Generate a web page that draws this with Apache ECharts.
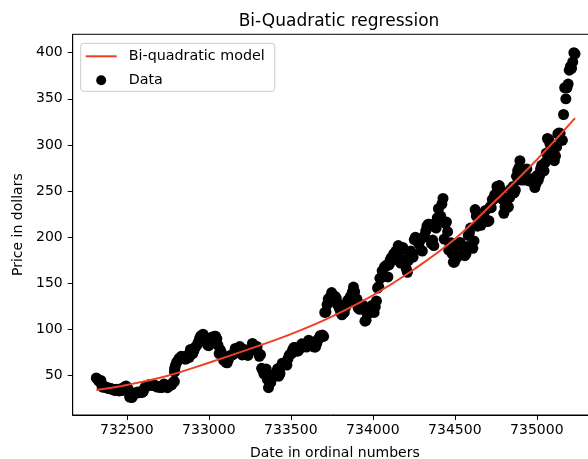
<!DOCTYPE html>
<html><head><meta charset="utf-8">
<script src="https://cdn.jsdelivr.net/npm/echarts@6/dist/echarts.min.js"></script>
<style>html,body{margin:0;padding:0;background:#fff}#c{width:588px;height:459px}</style>
</head><body><div id="c"></div>
<script>
// ---- observed prices (dollars), one reading per week starting on firstWeek ----
const firstWeek='2006-01-03';
const w2006=[47.6,46.2,44.4,43.9,44.8, 38.3,37.4,38.5,37.6, 37.5,36.4,35.9,36.5, 35.8,35.3,35.0,34.0, 34.8,35.3,34.3,33.5,35.0, 36.2,34.0,35.8,38.2, 38.7,36.8,35.0,26.9, 27.7,26.3,28.5,30.8,31.0, 31.6,32.4,31.5,32.1, 32.5,31.9,33.0,36.5,38.1, 38.3,39.6,40.2,40.3, 40.0,39.4,39.8,39.5];
const w2007=[38.7,37.7,38.0,37.5,37.7, 37.2,39.2,41.0,39.1, 38.5,37.0,38.8,39.8, 39.9,40.6,43.0,43.7, 61.3,64.5,66.0,68.5,69.1, 71.0,70.5,70.2,68.2, 68.0,71.5,72.5,69.9,78.5, 74.5,74.0,77.0,80.5, 82.0,84.0,87.0,90.5, 93.2,89.0,95.0,87.5,90.0, 88.0,83.0,82.5,90.6, 91.0,92.0,91.5,92.6];
const w2008=[92.6,90.0,83.0,74.0,78.0, 75.0,72.0,66.5,68.0, 64.5,64.0,67.5,71.0, 72.0,72.5,72.8,74.5,79.5, 79.0,78.0,80.5,81.6, 77.0,72.5,74.5,78.5, 73.3,73.0,72.0,75.5,77.5, 79.0,85.0,80.5,81.0, 80.8,81.5,75.0,71.0,72.8, 58.0,55.8,52.0,52.5, 57.2,46.0,37.0,42.0, 42.7,50.0,48.5,51.0,51.3];
const w2009=[54.5,57.5,49.5,52.5, 60.0,63.5,63.5,62.0, 63.5,61.5,68.5,72.0,73.4, 74.0,78.0,80.5,80.5, 80.0,76.5,77.0,79.0, 81.0,84.5,83.5,83.0,83.7, 81.0,84.5,88.5,85.5, 85.5,84.0,81.5,81.0, 81.2,85.0,89.0,90.5,93.4, 93.5,94.0,92.5,118.5, 119.0,127.0,133.0,134.0, 135.9,140.0,133.0,132.0,136.0];
const w2010=[134.0,127.0,127.5,122.0, 118.0,116.0,118.0,118.5, 124.0,128.5,131.5,131.0,135.0, 137.0,140.5,146.0,141.0, 130.0,133.0,123.5,122.0, 126.0,122.0,126.5,122.0,109.0, 110.0,117.0,119.0,118.0, 122.0,126.0,123.0,118.5,124.8, 131.0,145.0,146.5,155.5, 156.0,163.5,158.0,168.0, 168.5,170.0,157.0,170.0,175.4, 178.0,175.0,182.0,180.0];
const w2011=[185.0,184.5,191.0,176.0, 172.0,187.0,189.0,176.0, 173.5,166.0,162.0,175.0,180.0, 185.0,181.5,178.5,197.5, 200.0,198.0,195.0,193.0,196.7, 186.0,185.0,200.0,202.0, 207.0,212.0,214.0,214.0, 212.0,193.0,197.0,191.0,215.0, 210.0,221.0,231.0,222.0, 223.0,236.0,242.0,198.0, 215.0,216.5,206.0,186.0,192.0, 194.0,182.0,173.0,173.0];
const w2012=[179.0,178.0,181.0,189.0,194.4, 185.0,184.0,182.0,180.0, 182.0,190.0,202.0,205.0, 210.0,190.0,188.0,196.0, 230.0,223.0,212.0,215.0,214.0, 213.0,217.0,221.0,221.0, 229.0,218.0,217.0,218.0,233.0, 232.0,241.0,241.0,246.0, 247.0,255.0,254.0,256.0, 252.0,245.0,241.0,226.0,233.0, 238.0,232.0,233.0,243.0, 252.0,251.0,255.0,248.0];
const w2013=[251.0,266.0,272.0,275.0,283.0, 262.0,269.0,265.0,262.0, 266.0,274.0,264.0,261.0, 261.0,263.0,263.0,260.0,253.8, 258.0,267.0,262.0,266.0, 274.0,278.0,273.0,272.0, 281.0,291.0,307.0,306.0,302.0, 298.0,291.0,288.0,283.0, 288.0,298.0,312.0,313.0, 312.6,306.0,305.0,333.0,362.0, 350.0,362.0,366.0,381.0, 385.0,383.0,390.0,400.0,398.8];
// extra daily readings inside the April 2007 jump
const extraDates=['2007-04-25','2007-04-26','2007-04-27'];
const extraPrices=[53.8,56.8,58.5];

// ---- fitted bi-quadratic model ----
const modelX=[732314,732500,732750,733000,733250,733500,733750,734000,734250,734500,734750,735000,735233];
const modelY=[34.5,40,50,64,79,95,114,137,165,198,240,284,329];

// ---- ticks ----
const xTicks=[732500,733000,733500,734000,734500,735000];
const yTicks=[50,100,150,200,250,300,350,400];

function toOrdinal(s){const [y,m,d]=s.split('-').map(Number);return Date.UTC(y,m-1,d)/86400000+719163;}
const weekly=[].concat(w2006,w2007,w2008,w2009,w2010,w2011,w2012,w2013);
const start=toOrdinal(firstWeek);
const scatterData=weekly.map((p,i)=>[start+7*i,p]).concat(extraDates.map((d,i)=>[toOrdinal(d),extraPrices[i]]));
const modelData=modelX.map((x,i)=>[x,modelY[i]]);

const FONT='DejaVu Sans';
const chart=echarts.init(document.getElementById('c'),null,{renderer:'canvas'});
chart.setOption({
  animation:false,
  backgroundColor:'#ffffff',
  title:{text:'Bi-Quadratic regression',left:334,top:8,textAlign:'center',
    textStyle:{fontFamily:FONT,fontSize:17,fontWeight:'normal',color:'#000'}},
  legend:{orient:'vertical',left:80.7,top:43.3,padding:[6,10,4,4],
    itemWidth:31,itemHeight:10,itemGap:10,
    backgroundColor:'rgba(255,255,255,0.8)',borderColor:'#cccccc',borderWidth:1,borderRadius:3,
    textStyle:{fontFamily:FONT,fontSize:14.3,color:'#000',padding:[0,0,0,7]},
    data:[{name:'Bi-quadratic model',itemStyle:{opacity:0}},{name:'Data',icon:'circle'}]},
  grid:{left:72.7,right:-9,top:34.3,bottom:44,show:true,borderColor:'#000',borderWidth:1,outerBoundsMode:'none'},
  xAxis:{type:'value',min:732170,max:735367,
    name:'Date in ordinal numbers',nameLocation:'middle',nameGap:31,
    nameTextStyle:{fontFamily:FONT,fontSize:14,color:'#000'},
    axisLine:{show:true,onZero:false,lineStyle:{color:'#000',width:1}},
    axisTick:{show:true,length:5,customValues:xTicks,lineStyle:{color:'#000',width:1}},
    axisLabel:{customValues:xTicks,margin:8,fontFamily:FONT,fontSize:14,color:'#000',formatter:v=>String(v)},
    splitLine:{show:false}},
  yAxis:{type:'value',min:7.4,max:419.9,
    name:'Price in dollars',nameLocation:'middle',nameGap:44,
    nameTextStyle:{fontFamily:FONT,fontSize:14,color:'#000'},
    axisLine:{show:true,onZero:false,lineStyle:{color:'#000',width:1}},
    axisTick:{show:true,length:5,customValues:yTicks,lineStyle:{color:'#000',width:1}},
    axisLabel:{customValues:yTicks,margin:10,fontFamily:FONT,fontSize:14,color:'#000',formatter:v=>String(v)},
    splitLine:{show:false}},
  series:[
    {name:'Bi-quadratic model',type:'line',data:modelData,smooth:0.4,symbol:'none',z:5,
      lineStyle:{color:'#ef4125',width:2},itemStyle:{color:'#ef4125'}},
    {name:'Data',type:'scatter',data:scatterData,symbol:'circle',symbolSize:11,z:3,
      itemStyle:{color:'#000',opacity:1}}
  ]
});
</script></body></html>
